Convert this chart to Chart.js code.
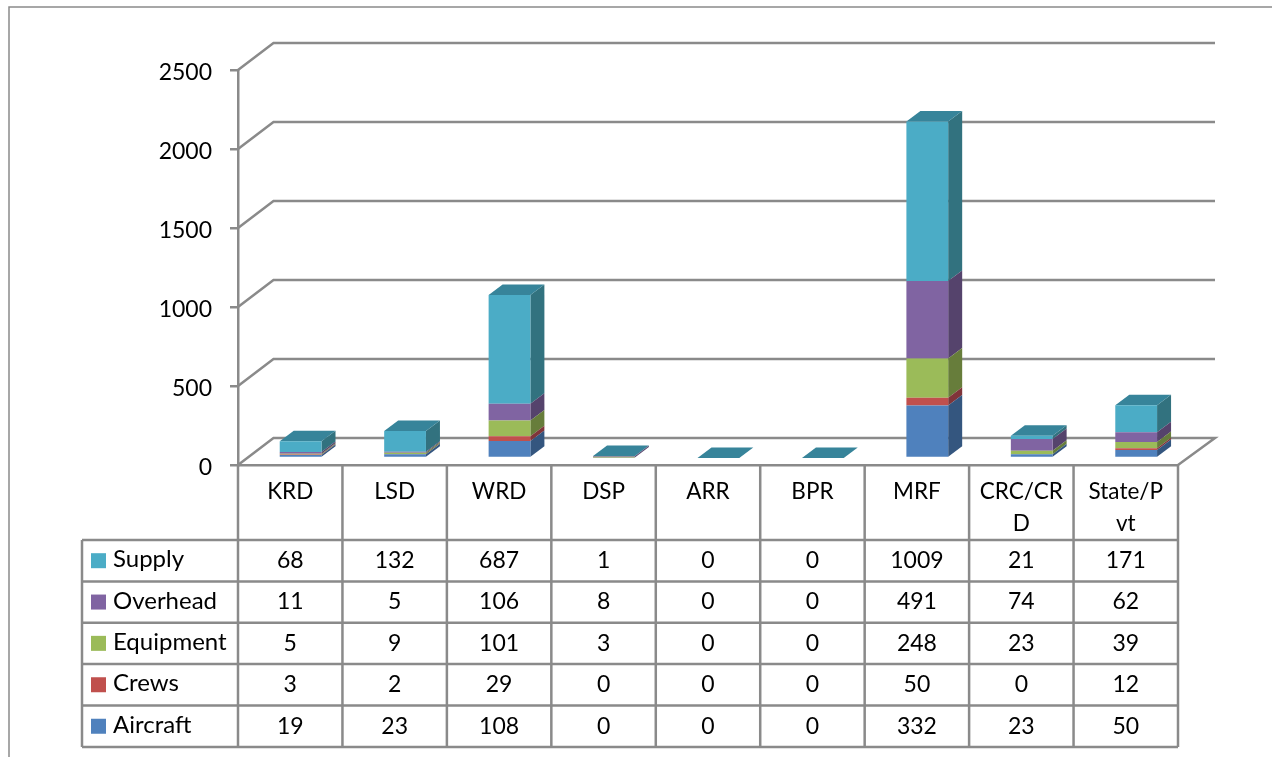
<!DOCTYPE html>
<html>
<head>
<meta charset="utf-8">
<style>html,body{margin:0;padding:0;background:#fff;overflow:hidden}canvas{display:block}</style>
<script src="https://cdn.jsdelivr.net/npm/chart.js@4"></script>
</head>
<body>
<canvas id="c" width="1272" height="757" style="width:1272px;height:757px"></canvas>
<script>
const categories = ["KRD","LSD","WRD","DSP","ARR","BPR","MRF",["CRC/CR","D"],["State/P","vt"]];
const aircraft  = [19,23,108,0,0,0,332,23,50];
const crews     = [3,2,29,0,0,0,50,0,12];
const equipment = [5,9,101,3,0,0,248,23,39];
const overhead  = [11,5,106,8,0,0,491,74,62];
const supply    = [68,132,687,1,0,0,1009,21,171];
const yTicksMax = 2500, yStep = 500;

const FONT = 'Lato, Carlito, "Open Sans", sans-serif';
const LINE = '#8a8a8a';
const BAR_DX = 10.4, BAR_DY = -7, DEPTH_X = 14, DEPTH_Y = -10.5;
const WALL_DX = 35.5, WALL_DY = -27;
const GRID_RIGHT = 1215, ROW_TOPS = [540,581.4,622.7,664,705.5,747], TABLE_LEFT = 82;

const sideColors = {Aircraft:'#34567f',Crews:'#80353a',Equipment:'#677d3b',Overhead:'#55436c',Supply:'#32727f'};
const topColor = '#37849a';

const threeD = {
  id:'threeD',
  beforeDatasetsDraw(chart){
    const {ctx,scales:{y},chartArea:a} = chart;
    ctx.save();
    ctx.strokeStyle = LINE; ctx.lineWidth = 2.5; ctx.lineJoin='miter';
    for(let v=0;v<=yTicksMax;v+=yStep){
      const py = y.getPixelForValue(v);
      ctx.beginPath();
      ctx.moveTo(a.left,py);
      ctx.lineTo(a.left+WALL_DX,py+WALL_DY);
      ctx.lineTo(GRID_RIGHT,py+WALL_DY);
      if(v===0) ctx.lineTo(a.right,py);
      ctx.stroke();
    }
    ctx.restore();
  },
  beforeDatasetDraw(chart,args){
    const {ctx} = chart;
    ctx.save();
    ctx.translate(BAR_DX,BAR_DY);
    const ds = chart.data.datasets[args.index];
    args.meta.data.forEach(bar=>{
      const p = bar.getProps(['x','y','base','width'],true);
      const r = p.x+p.width/2, l = p.x-p.width/2;
      if(p.base-p.y>0){
        ctx.fillStyle = sideColors[ds.label];
        ctx.beginPath();
        ctx.moveTo(r,p.base);ctx.lineTo(r+DEPTH_X,p.base+DEPTH_Y);
        ctx.lineTo(r+DEPTH_X,p.y+DEPTH_Y);ctx.lineTo(r,p.y);ctx.closePath();ctx.fill();
      }
      if(ds.label==='Supply'){
        ctx.fillStyle = topColor;
        ctx.beginPath();
        ctx.moveTo(l,p.y);ctx.lineTo(l+DEPTH_X,p.y+DEPTH_Y);
        ctx.lineTo(r+DEPTH_X,p.y+DEPTH_Y);ctx.lineTo(r,p.y);ctx.closePath();ctx.fill();
      }
    });
  },
  afterDatasetDraw(chart){ chart.ctx.restore(); },
  afterDraw(chart){
    const {ctx,scales:{x},chartArea:a} = chart;
    ctx.save();
    // outer frame: open on the right and at the bottom
    ctx.strokeStyle = '#8a8a8a'; ctx.lineWidth = 1.5;
    ctx.beginPath();ctx.moveTo(9,757);ctx.lineTo(9,7);ctx.lineTo(1272,7);ctx.stroke();
    // data table lines
    ctx.strokeStyle = LINE; ctx.lineWidth = 2.5;
    const cw = a.width/categories.length;
    ctx.beginPath();
    for(let i=0;i<=categories.length;i++){
      ctx.moveTo(a.left+i*cw,a.bottom);ctx.lineTo(a.left+i*cw,ROW_TOPS[5]);
    }
    ROW_TOPS.forEach(t=>{ctx.moveTo(TABLE_LEFT,t);ctx.lineTo(a.right,t);});
    ctx.moveTo(TABLE_LEFT,ROW_TOPS[0]);ctx.lineTo(TABLE_LEFT,ROW_TOPS[5]);
    ctx.stroke();
    // rows: top row is the last series
    const rows = chart.data.datasets.slice().reverse();
    ctx.textBaseline='middle';
    rows.forEach((ds,r)=>{
      const cy = (ROW_TOPS[r]+ROW_TOPS[r+1])/2;
      ctx.fillStyle = ds.backgroundColor;
      ctx.fillRect(91,cy-7.5,15,15);
      ctx.fillStyle='#000';
      ctx.textAlign='left';
      ctx.font = '24px '+FONT;
      ctx.fillText(ds.label,113,cy-1);
      ctx.textAlign='center';
      ctx.font = '23px '+FONT;
      ds.data.forEach((v,i)=>ctx.fillText(String(v),x.getPixelForTick(i),cy));
    });
    ctx.restore();
  }
};

new Chart(document.getElementById('c'),{
  type:'bar',
  data:{
    labels:categories,
    datasets:[
      {label:'Aircraft',data:aircraft,backgroundColor:'#4f81bd'},
      {label:'Crews',data:crews,backgroundColor:'#c0504d'},
      {label:'Equipment',data:equipment,backgroundColor:'#9bbb59'},
      {label:'Overhead',data:overhead,backgroundColor:'#8064a2'},
      {label:'Supply',data:supply,backgroundColor:'#4bacc6'}
    ]
  },
  options:{
    responsive:false,animation:false,
    devicePixelRatio:1,
    layout:{padding:{left:10,top:70,right:94,bottom:0}},
    plugins:{legend:{display:false},tooltip:{enabled:false},title:{display:false}},
    datasets:{bar:{barPercentage:0.4,categoryPercentage:1,borderWidth:0,clip:false}},
    scales:{
      x:{
        stacked:true,
        afterFit(s){s.height=292;},
        grid:{display:false},
        border:{display:true,color:LINE,width:2.5},
        ticks:{color:'#000',font:{family:FONT,size:22.5,lineHeight:'32px'},padding:3,maxRotation:0,minRotation:0,autoSkip:false}
      },
      y:{
        stacked:true,min:0,max:yTicksMax,
        afterFit(s){s.width=228;},
        grid:{drawOnChartArea:false,color:LINE,lineWidth:2.5,tickLength:8},
        border:{color:LINE,width:2.5},
        ticks:{color:'#000',stepSize:yStep,font:{family:FONT,size:23},padding:18,labelOffset:3,callback:v=>String(v)}
      }
    }
  },
  plugins:[threeD]
});
</script>
</body>
</html>
